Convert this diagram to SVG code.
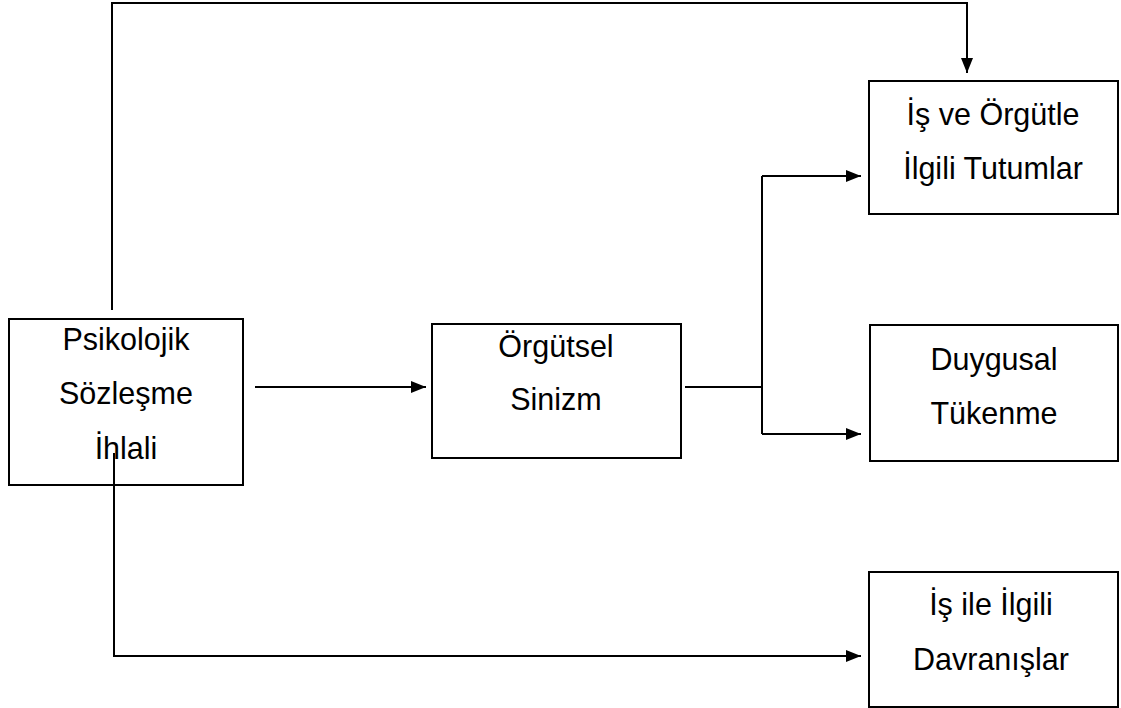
<svg xmlns="http://www.w3.org/2000/svg" width="1121" height="708" viewBox="0 0 1121 708">
<style>
.box{fill:#fff;stroke:#000;stroke-width:2}
.t{font-family:"Liberation Sans",Arial,sans-serif;font-size:30.5px;fill:#000;text-anchor:middle}
.c{fill:none;stroke:#000;stroke-width:2}
</style>
<defs>
<marker id="ah" markerWidth="15" markerHeight="12" refX="15" refY="6" orient="auto" markerUnits="userSpaceOnUse">
<path d="M0,0 L15,6 L0,12 Z" fill="#000"/>
</marker>
</defs>
<rect width="1121" height="708" fill="#fff"/>
<g id="n1">
<rect class="box" x="9" y="319" width="234" height="166"/>
<text class="t" x="126" y="350">Psikolojik</text>
<text class="t" x="126" y="404">Sözleşme</text>
<text class="t" x="126" y="459">İhlali</text>
</g>
<g id="n2">
<rect class="box" x="432" y="324" width="249" height="134"/>
<text class="t" x="556" y="357">Örgütsel</text>
<text class="t" x="556" y="410">Sinizm</text>
</g>
<g id="n3">
<rect class="box" x="869" y="81" width="249" height="133"/>
<text class="t" x="993" y="125">İş ve Örgütle</text>
<text class="t" x="993" y="179">İlgili Tutumlar</text>
</g>
<g id="n4">
<rect class="box" x="870" y="325" width="248" height="136"/>
<text class="t" x="994" y="370">Duygusal</text>
<text class="t" x="994" y="424">Tükenme</text>
</g>
<g id="n5">
<rect class="box" x="869" y="572" width="249" height="135"/>
<text class="t" x="991" y="615">İş ile İlgili</text>
<text class="t" x="991" y="670">Davranışlar</text>
</g>
<g id="connectors">
<path class="c" d="M112,310 V3 H967 V73" marker-end="url(#ah)"/>
<path class="c" d="M255,387 H426" marker-end="url(#ah)"/>
<path class="c" d="M685,387 H762"/>
<path class="c" d="M762,176 V434"/>
<path class="c" d="M762,176 H861" marker-end="url(#ah)"/>
<path class="c" d="M762,434 H861" marker-end="url(#ah)"/>
<path class="c" d="M114,453 V656 H861" marker-end="url(#ah)"/>
</g>
</svg>
